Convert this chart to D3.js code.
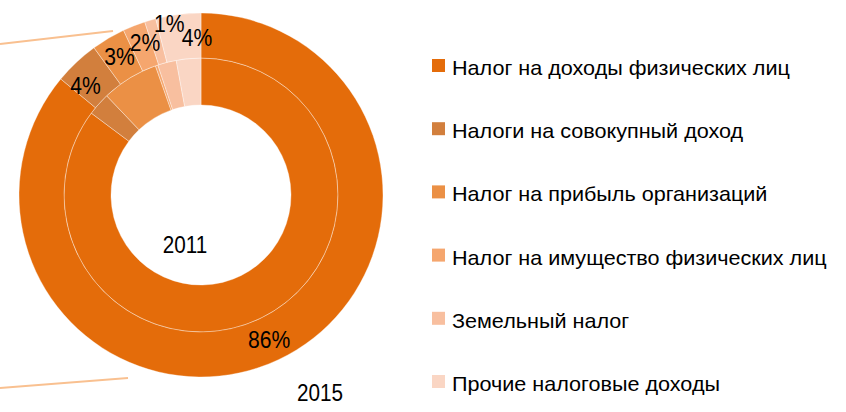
<!DOCTYPE html>
<html>
<head>
<meta charset="utf-8">
<script src="https://cdn.jsdelivr.net/npm/d3@7"></script>
<style>
  body { margin: 0; background: #fff; }
  svg text { font-family: "Liberation Sans", Arial, sans-serif; fill: #000; }
</style>
</head>
<body>
<svg id="chart" width="846" height="412"></svg>
<script>
var categories = ["Налог на доходы физических лиц", "Налоги на совокупный доход", "Налог на прибыль организаций",
  "Налог на имущество физических лиц", "Земельный налог", "Прочие налоговые доходы"];
var values2011 = [85.2, 2.7, 6.7, 0.3, 2.2, 2.9];
var values2015 = [86, 4, 3, 2, 1, 4];
var labels2015 = ["86%", "4%", "3%", "2%", "1%", "4%"];
var colors = ["#E46C0A", "#D27F3D", "#EB9045", "#F5A66E", "#F8BF9F", "#FAD6C4"];

var svg = d3.select("#chart");
var cx = 201, cy = 195;

var pie = d3.pie().sort(null).value(function(d) { return d; });
var g = svg.append("g").attr("transform", "translate(" + cx + "," + cy + ")");

// inner ring - 2011
var arcIn = d3.arc().innerRadius(90).outerRadius(137);
g.selectAll(".in").data(pie(values2011)).enter().append("path")
  .attr("class", "in")
  .attr("d", arcIn)
  .attr("fill", function(d, i) { return colors[i]; })
  .attr("stroke", "rgba(255,255,255,0.6)")
  .attr("stroke-width", 0.6);

// outer ring - 2015
var arcOut = d3.arc().innerRadius(137).outerRadius(182);
var outer = pie(values2015);
g.selectAll(".out").data(outer).enter().append("path")
  .attr("class", "out")
  .attr("d", arcOut)
  .attr("fill", function(d, i) { return colors[i]; })
  .attr("stroke", "rgba(255,255,255,0.6)")
  .attr("stroke-width", 0.6);

// labels, small ones get pushed apart like excel does
var labelArc = d3.arc().innerRadius(160).outerRadius(160);
var nudge = {1: [-6, 7], 2: [0, -1], 3: [3, -4], 4: [13, -18], 5: [16, 1]};
g.selectAll(".lbl").data(outer).enter().append("text")
  .attr("class", "lbl")
  .attr("transform", function(d, i) {
    var c = labelArc.centroid(d), n = nudge[i] || [0, 0];
    return "translate(" + (c[0] + n[0]) + "," + (c[1] + n[1]) + ") scale(0.88,1)";
  })
  .attr("text-anchor", "middle")
  .attr("dy", "0.36em")
  .style("font-size", "24px")
  .text(function(d, i) { return labels2015[i]; });

svg.append("text").attr("transform", "translate(185,253) scale(0.9,1)").attr("text-anchor", "middle")
  .style("font-size", "23px").text("2011");
svg.append("text").attr("transform", "translate(320,401) scale(0.9,1)").attr("text-anchor", "middle")
  .style("font-size", "23px").text("2015");

// the two callout lines on the left
svg.append("line").attr("x1", 0).attr("y1", 44).attr("x2", 113).attr("y2", 31)
  .attr("stroke", "#F9C090").attr("stroke-width", 2);
svg.append("line").attr("x1", 0).attr("y1", 388).attr("x2", 128).attr("y2", 378)
  .attr("stroke", "#F9C090").attr("stroke-width", 2);

// legend
var legend = svg.append("g").attr("transform", "translate(432,0)");
var rowY = d3.scalePoint().domain(categories).range([66, 382]);
var item = legend.selectAll(".leg").data(categories).enter().append("g")
  .attr("transform", function(d) { return "translate(0," + rowY(d) + ")"; });
item.append("rect").attr("x", 0).attr("y", -7).attr("width", 13).attr("height", 13)
  .attr("fill", function(d, i) { return colors[i]; });
item.append("text").attr("transform", "translate(20,9) scale(1.08,1)").style("font-size", "20px")
  .text(function(d) { return d; });
</script>
</body>
</html>
